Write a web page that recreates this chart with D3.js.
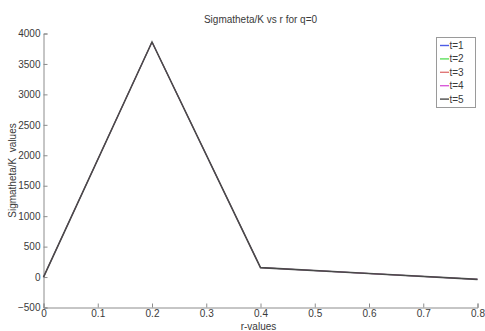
<!DOCTYPE html>
<html>
<head>
<meta charset="utf-8">
<script src="https://cdn.jsdelivr.net/npm/d3@7"></script>
<style>
  html, body { margin: 0; padding: 0; background: #fff; }
  svg { display: block; font-family: "Liberation Sans", Arial, sans-serif; }
</style>
</head>
<body>
<svg id="chart" width="485" height="331"></svg>
<script>
// r grid and Sigmatheta/K for each time step (all coincide for q=0)
const rValues = [0, 0.2, 0.4, 0.6, 0.8];
const seriesNames = ["t=1", "t=2", "t=3", "t=4", "t=5"];
const t1 = [0, 3860, 155, 58, -38];
const t2 = [0, 3860, 155, 58, -38];
const t3 = [0, 3860, 155, 58, -38];
const t4 = [0, 3860, 155, 58, -38];
const t5 = [0, 3860, 155, 58, -38];
const seriesValues = [t1, t2, t3, t4, t5];
const seriesColors = ["#4d5de6", "#5fe05f", "#e07878", "#d95cd9", "#4a4a4a"];
const xTicks = [0, 0.1, 0.2, 0.3, 0.4, 0.5, 0.6, 0.7, 0.8];
const yTicks = [-500, 0, 500, 1000, 1500, 2000, 2500, 3000, 3500, 4000];

const svg = d3.select("#chart");
const plotLeft = 43.5, plotRight = 477.5, plotTop = 33.5, plotBottom = 307.5;

const x = d3.scaleLinear().domain([0, 0.8]).range([plotLeft, plotRight]);
const y = d3.scaleLinear().domain([-500, 4000]).range([plotBottom, plotTop]);

const axisColor = "#8c8c8c";
const textColor = "#3a3a3a";

// x axis with inward ticks
const xAxis = svg.append("g")
  .attr("transform", `translate(0,${plotBottom})`)
  .call(d3.axisBottom(x).tickValues(xTicks).tickSize(-4).tickPadding(4)
    .tickFormat(d => String(+d.toFixed(1))));
xAxis.select(".domain").attr("stroke", axisColor);
xAxis.selectAll(".tick line").attr("stroke", axisColor);
xAxis.selectAll(".tick text").attr("fill", textColor).attr("font-size", 10)
  .attr("dy", "0.55em");

// y axis with inward ticks
const yAxis = svg.append("g")
  .attr("transform", `translate(${plotLeft},0)`)
  .call(d3.axisLeft(y).tickValues(yTicks).tickSize(-4).tickPadding(3)
    .tickFormat(d3.format("d")));
yAxis.select(".domain").attr("stroke", axisColor);
yAxis.selectAll(".tick line").attr("stroke", axisColor);
yAxis.selectAll(".tick text").attr("fill", textColor).attr("font-size", 10);

// series lines; the last one is drawn on top and hides the others
const line = d3.line().x((d, i) => x(rValues[i])).y(d => y(d));
seriesValues.forEach((vals, k) => {
  svg.append("path")
    .datum(vals)
    .attr("d", line)
    .attr("fill", "none")
    .attr("stroke", seriesColors[k])
    .attr("stroke-width", k === seriesValues.length - 1 ? 1.6 : 0.8);
});

// title and axis labels
svg.append("text")
  .attr("x", (plotLeft + plotRight) / 2).attr("y", 23)
  .attr("text-anchor", "middle").attr("font-size", 10).attr("fill", textColor)
  .text("Sigmatheta/K vs r for q=0");

svg.append("text")
  .attr("x", (plotLeft + plotRight) / 2 - 2).attr("y", 330)
  .attr("text-anchor", "middle").attr("font-size", 10).attr("fill", textColor)
  .text("r-values");

svg.append("text")
  .attr("transform", `translate(16,${(plotTop + plotBottom) / 2}) rotate(-90)`)
  .attr("text-anchor", "middle").attr("font-size", 10).attr("fill", textColor)
  .attr("xml:space", "preserve")
  .text("Sigmatheta/K  values");

// legend
const legend = svg.append("g");
legend.append("rect")
  .attr("x", 436.5).attr("y", 37.5).attr("width", 39).attr("height", 70)
  .attr("fill", "#fff").attr("stroke", "#9a9a9a");
seriesNames.forEach((name, k) => {
  const ly = 45.5 + k * 13.4;
  legend.append("line")
    .attr("x1", 440).attr("x2", 449).attr("y1", ly).attr("y2", ly)
    .attr("stroke", seriesColors[k]).attr("stroke-width", 1.4);
  legend.append("text")
    .attr("x", 449.5).attr("y", ly).attr("dy", "0.35em")
    .attr("font-size", 10).attr("fill", textColor)
    .text(name);
});
</script>
</body>
</html>
